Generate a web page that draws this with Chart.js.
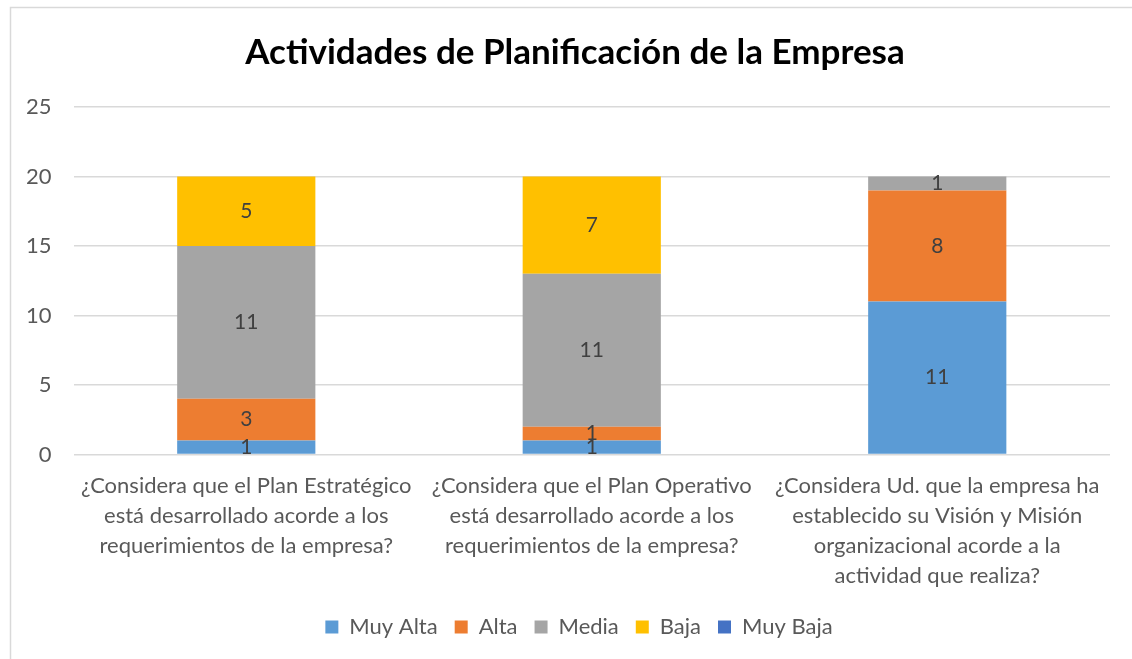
<!DOCTYPE html>
<html>
<head>
<meta charset="utf-8">
<script src="https://cdn.jsdelivr.net/npm/chart.js@4"></script>
<style>
html,body{margin:0;padding:0;background:#fff;}
#wrap{position:absolute;left:0;top:0;width:1132px;height:659px;}
</style>
</head>
<body>
<div id="wrap"><canvas id="c" width="1132" height="659"></canvas></div>
<script>
const categories = [
  ["¿Considera que el Plan Estratégico", "está desarrollado acorde a los", "requerimientos de la empresa?"],
  ["¿Considera que el Plan Operativo", "está desarrollado acorde a los", "requerimientos de la empresa?"],
  ["¿Considera Ud. que la empresa ha", "establecido su Visión y Misión", "organizacional acorde a la", "actividad que realiza?"]
];
const seriesNames = ["Muy Alta", "Alta", "Media", "Baja", "Muy Baja"];
const muyAlta = [1, 1, 11];
const alta = [3, 1, 8];
const media = [11, 11, 1];
const baja = [5, 7, 0];
const muyBaja = [0, 0, 0];
const yTicks = [0, 5, 10, 15, 20, 25];
const title = "Actividades de Planificación de la Empresa";

const colors = ["#5B9BD5", "#ED7D31", "#A5A5A5", "#FFC000", "#4472C4"];
const seriesValues = [muyAlta, alta, media, baja, muyBaja];
const FONT = "Lato, 'Open Sans', sans-serif";

const borderPlugin = {
  id: 'borderPlugin',
  afterLayout(chart) {
    // centre legend on the outer chart frame, like the reference
    if (chart.legend) {
      chart.legend.left += 22;
      chart.legend.right += 22;
    }
  },
  beforeDraw(chart) {
    const ctx = chart.ctx;
    ctx.save();
    ctx.fillStyle = '#fff';
    ctx.fillRect(0, 0, chart.width, chart.height);
    ctx.strokeStyle = '#d9d9d9';
    ctx.lineWidth = 1.5;
    ctx.strokeRect(10.5, 7.5, chart.width + 20, chart.height + 20);
    ctx.restore();
  },
  afterDraw(chart) {
    // title centred on the outer chart frame (as in the reference)
    const tb = chart.titleBlock;
    const ctx = chart.ctx;
    ctx.save();
    ctx.font = "bold 35px " + FONT;
    ctx.fillStyle = '#000';
    ctx.textAlign = 'center';
    ctx.textBaseline = 'middle';
    const top = tb.top + 8;
    const bottom = tb.bottom - 34;
    ctx.fillText(title, 575, (top + bottom) / 2 + 1);
    ctx.restore();
  }
};

const labelPlugin = {
  id: 'labelPlugin',
  afterDatasetsDraw(chart) {
    const ctx = chart.ctx;
    ctx.save();
    ctx.font = "21px " + FONT;
    ctx.fillStyle = '#404040';
    ctx.textAlign = 'center';
    ctx.textBaseline = 'middle';
    chart.data.datasets.forEach((ds, di) => {
      const meta = chart.getDatasetMeta(di);
      meta.data.forEach((bar, i) => {
        const v = ds.data[i];
        if (!v) return;
        const yc = (bar.y + bar.base) / 2;
        ctx.fillText(String(v), bar.x, yc);
      });
    });
    ctx.restore();
  }
};

new Chart(document.getElementById('c'), {
  type: 'bar',
  data: {
    labels: categories,
    datasets: seriesNames.map((n, i) => ({
      label: n,
      data: seriesValues[i],
      backgroundColor: colors[i],
      borderWidth: 0,
      categoryPercentage: 1.0,
      barPercentage: 0.4
    }))
  },
  options: {
    responsive: false,
    animation: false,
    layout: { padding: { left: 4, right: 22, top: 23, bottom: 11 } },
    plugins: {
      tooltip: { enabled: false },
      title: {
        display: true,
        text: title,
        color: 'rgba(0,0,0,0)',
        font: { family: FONT, size: 35, weight: 'bold' },
        padding: { top: 8, bottom: 34 }
      },
      legend: {
        position: 'bottom',
        labels: {
          color: '#595959',
          font: { family: FONT, size: 22 },
          boxWidth: 13,
          boxHeight: 13,
          padding: 17
        }
      }
    },
    scales: {
      x: {
        stacked: true,
        grid: { display: false },
        border: { display: false },
        ticks: {
          color: '#595959',
          font: { family: FONT, size: 22, lineHeight: 1.37 },
          maxRotation: 0,
          autoSkip: false,
          padding: 8
        }
      },
      y: {
        stacked: true,
        min: 0,
        max: 25,
        afterBuildTicks(axis) { axis.ticks = yTicks.map(v => ({ value: v })); },
        grid: { color: '#d9d9d9', lineWidth: 1.5, drawTicks: false },
        border: { display: false },
        ticks: {
          color: '#595959',
          font: { family: FONT, size: 22 },
          padding: 22
        }
      }
    }
  },
  plugins: [borderPlugin, labelPlugin]
});
</script>
</body>
</html>
